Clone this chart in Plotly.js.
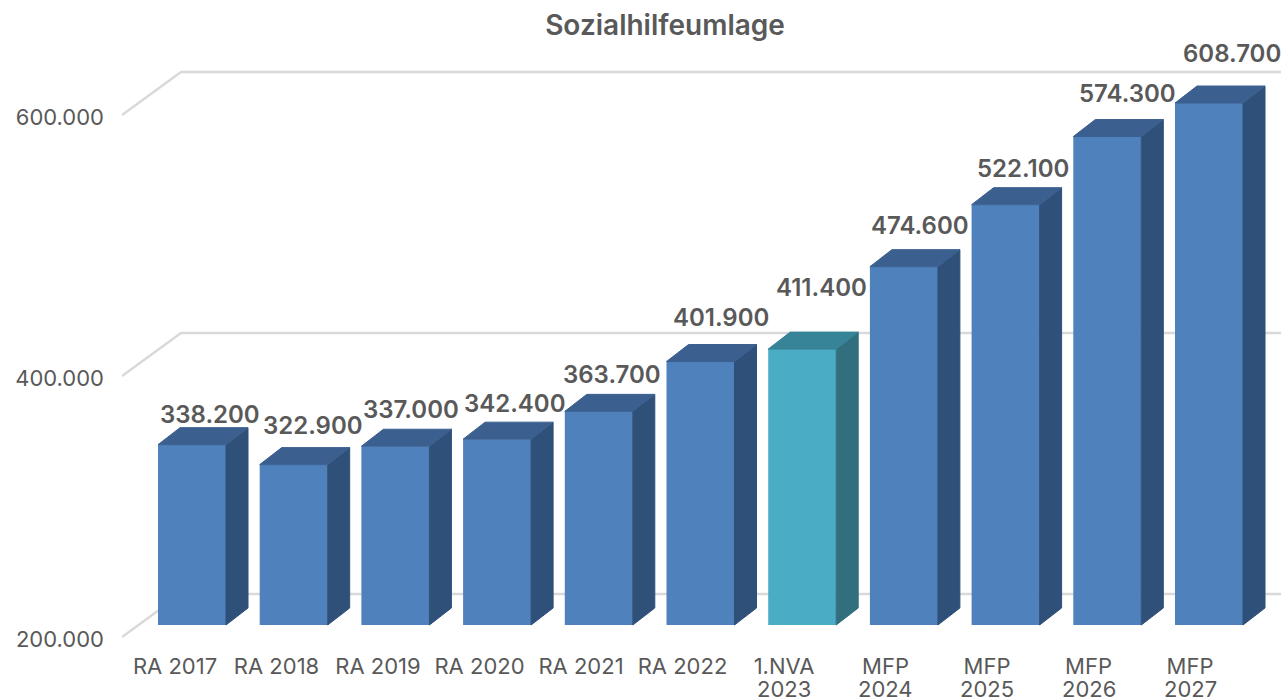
<!DOCTYPE html>
<html>
<head>
<meta charset="utf-8">
<script src="https://cdn.plot.ly/plotly-3.0.1.min.js"></script>
<style>html,body{margin:0;padding:0;background:#fff;overflow:hidden}#chart{width:1281px;height:699px}</style>
</head>
<body>
<div id="chart"></div>
<script>
// Data
const categoryFirstLine = ['RA 2017','RA 2018','RA 2019','RA 2020','RA 2021','RA 2022','1.NVA','MFP','MFP','MFP','MFP'];
const categorySecondLine = ['','','','','','','2023','2024','2025','2026','2027'];
const values = [338200,322900,337000,342400,363700,401900,411400,474600,522100,574300,608700];
const highlightedCategory = '1.NVA';
const yTicks = [200000,400000,600000];
const yMin = 200000, yMax = 600000;

// Manually placed data-label offsets (pixels from bar-top centre)
const labelShiftX = [18,19,16,18,13,20,19,16,17,20,23];
const labelShiftY = [30,39,37,36,37,44,62,41,36,43,50];

// Geometry
const W = 1281, H = 699, plotBottom = 650, plotLeft = 122;
const slotPx = 101.7, labelSlotPx = 101.5, firstBarPx = 192, firstLabelPx = 175, barPx = 68;
const pxPerUnit = 522 / 400000;
const wallBottomPx = 637, barBottomPx = 625, tickLabelNudgePx = 2;
const depthPx = [22, 17], wallDepthPx = [59, 43], secondLinePx = 689;

const textColor = '#595959', fontFamily = 'Inter, sans-serif';
const toCat = px => (px - firstBarPx) / slotPx;
const xRange = [toCat(plotLeft), toCat(W)];
const rangeFor = bottomPx => [
  yMin - (plotBottom - bottomPx) / pxPerUnit,
  yMin + bottomPx / pxPerUnit
];
const xs = categoryFirstLine.map((_, i) => i);
const labelXs = xs.map(i => toCat(firstLabelPx + i * labelSlotPx));
const shown = values.map(v => Math.min(v, yMax));
const hw = barPx / slotPx / 2, dx = depthPx[0] / slotPx, dy = depthPx[1] / pxPerUnit;

function faces(indexes, kind) {
  const X = [], Y = [];
  indexes.forEach(i => {
    const c = xs[i], v = shown[i];
    const px = kind === 'side'
      ? [c+hw, c+hw+dx, c+hw+dx, c+hw, c+hw]
      : [c-hw, c+hw, c+hw+dx, c-hw+dx, c-hw];
    const py = kind === 'side'
      ? [yMin, yMin+dy, v+dy, v, yMin]
      : [v, v, v+dy, v+dy, v];
    X.push(...px, null); Y.push(...py, null);
  });
  return {x: X, y: Y};
}
function face(indexes, kind, color) {
  return Object.assign({type:'scatter', mode:'lines', xaxis:'x', yaxis:'y2', fill:'toself',
    fillcolor:color, line:{width:1, color:color}, hoverinfo:'skip', showlegend:false}, faces(indexes, kind));
}

// Walls
const gx = [], gy = [];
const wallDx = wallDepthPx[0] / slotPx, wallDy = wallDepthPx[1] / pxPerUnit, nudge = tickLabelNudgePx / pxPerUnit;
yTicks.forEach(t => {
  gx.push(xRange[0], xRange[0] + wallDx, xRange[1], null);
  gy.push(t + nudge, t + nudge + wallDy, t + nudge + wallDy, null);
});

const plain = xs.filter(i => categoryFirstLine[i] !== highlightedCategory);
const hi = xs.filter(i => categoryFirstLine[i] === highlightedCategory);

const traces = [
  {type:'scatter', mode:'lines', x:gx, y:gy, xaxis:'x', yaxis:'y', line:{color:'#d9d9d9', width:2.5},
   hoverinfo:'skip', showlegend:false},
  face(plain,'side','#2f5079'), face(plain,'top','#3b6090'),
  face(hi,'side','#316f7e'), face(hi,'top','#378397'),
  {type:'bar', x:xs, y:shown.map(v => v - yMin), base:yMin, width:barPx/slotPx, xaxis:'x', yaxis:'y2',
   marker:{color:categoryFirstLine.map(c => c === highlightedCategory ? '#4bacc6' : '#4f81bd'), line:{width:0}},
   showlegend:false, hoverinfo:'skip'}
];

const fmt = v => String(v).replace(/\B(?=(\d{3})+$)/g, '.');
const valueLabels = values.map((v,i) => ({
  x: xs[i], y: shown[i], xref:'x', yref:'y2', text: fmt(v), showarrow:false,
  xanchor:'center', yanchor:'middle', xshift: labelShiftX[i], yshift: labelShiftY[i],
  font:{family:fontFamily, size:24, weight:600, color:textColor}
}));
const secondLines = categorySecondLine.map((t,i) => ({
  x: labelXs[i], y: (plotBottom - secondLinePx)/plotBottom, xref:'x', yref:'paper',
  text: t, showarrow:false, xanchor:'center', yanchor:'middle', height:20,
  font:{family:fontFamily, size:22, color:textColor}
})).filter(a => a.text);

const layout = {
  width:W, height:H, margin:{l:plotLeft, r:0, t:0, b:H-plotBottom, pad:0},
  paper_bgcolor:'#fff', plot_bgcolor:'#fff', separators:',.', showlegend:false,
  title:{text:'Sozialhilfeumlage', x:665/W, xanchor:'center', y:1-25/H, yanchor:'middle',
         font:{family:fontFamily, size:28, weight:600, color:textColor}},
  xaxis:{range:xRange, tickmode:'array', tickvals:labelXs, ticktext:categoryFirstLine,
         showgrid:false, zeroline:false, showline:false, ticks:'', tickangle:0, fixedrange:true,
         ticklabelstandoff:1, tickfont:{family:fontFamily, size:22, color:textColor}},
  yaxis:{range:rangeFor(wallBottomPx + tickLabelNudgePx), tickmode:'array', tickvals:yTicks, tickformat:',d',
         showgrid:false, zeroline:false, showline:false, ticks:'', fixedrange:true, ticklabelstandoff:17,
         tickfont:{family:fontFamily, size:22, color:textColor}},
  yaxis2:{range:rangeFor(barBottomPx), overlaying:'y', side:'left', visible:false, fixedrange:true},
  annotations: valueLabels.concat(secondLines)
};
Plotly.newPlot('chart', traces, layout, {displayModeBar:false, staticPlot:true});
</script>
</body>
</html>
